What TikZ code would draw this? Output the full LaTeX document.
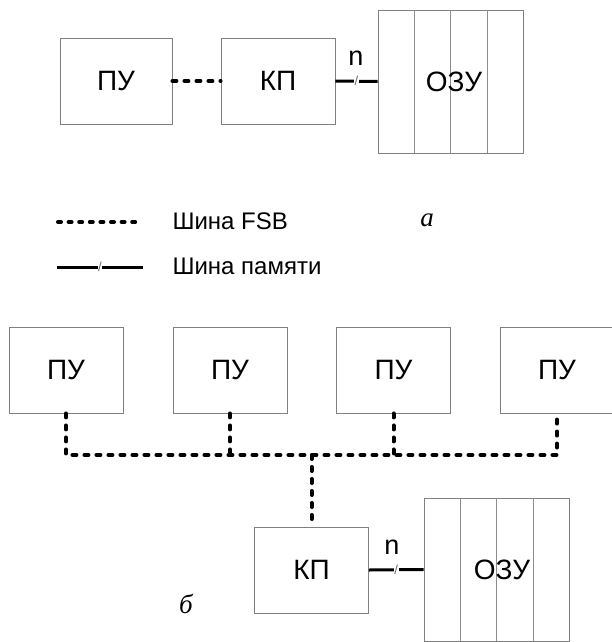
\documentclass[tikz,border=0pt]{standalone}
\usepackage{fontspec}
\usetikzlibrary{calc}
\setmainfont{Liberation Sans}
\newfontfamily\lserif{Liberation Serif}
\begin{document}
\begin{tikzpicture}[x=1pt,y=-1pt,
  box/.style={draw=black!50, line width=0.9pt, minimum width=114pt, minimum height=86pt, inner sep=0pt, font=\fontsize{28}{28}\selectfont},
  membox/.style={draw=black!50, line width=0.9pt, minimum width=145pt, minimum height=143pt, inner sep=0pt},
  divline/.style={draw=black!45, line width=0.9pt},
  fsb/.style={line width=4pt, line cap=round, dash pattern=on 4pt off 8pt},
  fsbleg/.style={line width=4pt, line cap=round, dash pattern=on 3pt off 7.6pt},
  membus/.style={line width=3pt},
  slashmark/.style={fill=white, inner xsep=0.5pt, inner ysep=1pt, text=black!60, font=\fontsize{13}{13}\selectfont},
  nlabel/.style={font=\fontsize{27}{27}\selectfont},
  legtext/.style={anchor=west, font=\fontsize{24}{24}\selectfont},
  caption/.style={font=\fontsize{27}{27}\selectfont\lserif\itshape}
]
\useasboundingbox (0,0) rectangle (611,642);
% ---------- part a ----------
\node[box, minimum width=112pt] (pu) at (116,81) {ПУ};
\node[box] (kp) at (278,81) {КП};
\node[membox] (ozu) at (450.5,81.5) {};
\foreach \i in {1,2,3}
  \draw[divline] ($(ozu.north west)!\i/4!(ozu.north east)$) -- ($(ozu.south west)!\i/4!(ozu.south east)$);
\node[font=\fontsize{28}{28}\selectfont] (ozut) at (454,81.5) {ОЗУ};
\draw[fsb] (pu.east) -- (kp.west);
\draw[membus] (kp.east) -- node[slashmark] (s1) {/} (ozu.west);
\node[nlabel] (n1) at (356,58) {n};
% ---------- legend ----------
\coordinate (l1a) at (58,222);
\coordinate (l1b) at (142,222);
\coordinate (l2a) at (57,267);
\coordinate (l2b) at (143,267);
\draw[fsbleg] (l1a) -- (l1b);
\draw[membus] (l2a) -- node[slashmark] (s2) {/} (l2b);
\node[legtext] (t1) at (169,221) {Шина FSB};
\node[legtext] (t2) at (169,266) {Шина памяти};
\node[caption] (ca) at (427,220) {a};
% ---------- part b ----------
\node[box] (p1) at (66,370) {ПУ};
\node[box] (p2) at (230,370) {ПУ};
\node[box] (p3) at (393.5,370) {ПУ};
\node[box] (p4) at (557,370) {ПУ};
\node[box] (kp2) at (311.5,570) {КП};
\node[membox] (ozu2) at (496.5,569.5) {};
\foreach \i in {1,2,3}
  \draw[divline] ($(ozu2.north west)!\i/4!(ozu2.north east)$) -- ($(ozu2.south west)!\i/4!(ozu2.south east)$);
\node[font=\fontsize{28}{28}\selectfont] (ozut2) at (502,569.5) {ОЗУ};
\coordinate (bus) at (311.5,455);
\draw[fsb] (p1.south) |- (bus) -| (p4.south);
\draw[fsb] (p2.south) -- (p2.south |- bus);
\draw[fsb] (p3.south) -- (p3.south |- bus);
\draw[fsb] (bus) -- (kp2.north);
\draw[membus] (kp2.east) -- node[slashmark] (s3) {/} (ozu2.west);
\node[nlabel] (n2) at (392,547) {n};
\node[caption] (cb) at (186,604) {б};
\end{tikzpicture}
\end{document}
